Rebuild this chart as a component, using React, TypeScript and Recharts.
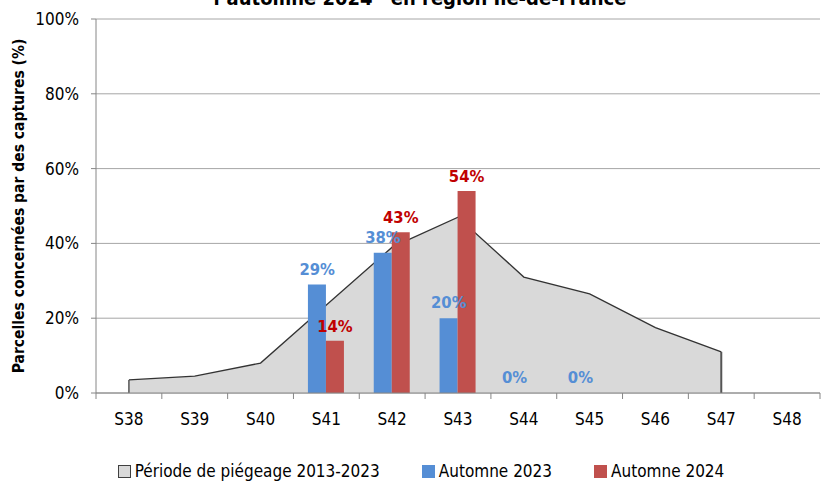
import React from 'react';
import { ComposedChart, Area, Bar, Line, XAxis, YAxis, CartesianGrid, LabelList, ReferenceLine, Legend } from 'recharts';

const categories = ['S38', 'S39', 'S40', 'S41', 'S42', 'S43', 'S44', 'S45', 'S46', 'S47', 'S48'];
const periode = [3.5, 4.5, 8, 23.5, 39, 47, 31, 26.5, 17.5, 11, null];
const automne2023 = [null, null, null, 29, 37.5, 20, 0, 0, null, null, null];
const automne2024 = [null, null, null, 14, 43, 54, null, null, null, null, null];
const yTicks = [0, 20, 40, 60, 80, 100];

const seriesNames = ['Période de piégeage 2013-2023', 'Automne 2023', 'Automne 2024'];
const title = 'l\u2019automne 2024\u201d en région Ile-de-France';
const yTitle = 'Parcelles concernées par des captures (%)';

const data = categories.map((c, i) => ({
  cat: c,
  periode: periode[i],
  a23: automne2023[i],
  a24: automne2024[i],
}));

const FONT = "'Liberation Sans Narrow', 'DejaVu Sans Condensed', 'Open Sans', sans-serif";
const BLUE = '#558ED5';
const RED = '#C0504D';
const AXIS = '#868686';
const BAND = 724 / 11;

const fmt = (v: any) => (v === null || v === undefined ? '' : `${Math.round(v)}%`);

const XTick = (props: any) => {
  const { x, y, payload, index, visibleTicksCount } = props;
  return (
    <g>
      <line x1={x - BAND / 2} x2={x - BAND / 2} y1={y - 8} y2={y - 2} stroke={AXIS} />
      {index === visibleTicksCount - 1 && (
        <line x1={x + BAND / 2} x2={x + BAND / 2} y1={y - 8} y2={y - 2} stroke={AXIS} />
      )}
      <text x={x} y={y + 24} textAnchor="middle" fontFamily={FONT} fontSize={17} fill="#000">
        {payload.value}
      </text>
    </g>
  );
};

const BlueLabel = (props: any) => {
  const { x, y, value } = props;
  if (value === null || value === undefined) return null;
  return (
    <text x={x - BAND * 0.14} y={y - 10} textAnchor="middle" fontFamily={FONT} fontWeight="bold" fontSize={16.5} fill={BLUE}>
      {fmt(value)}
    </text>
  );
};

const LegendContent = () => (
  <div style={{ display: 'flex', justifyContent: 'center', gap: 42, fontFamily: FONT, fontSize: 17, color: '#000', marginLeft: 22 }}>
    {[
      { name: seriesNames[0], fill: '#D9D9D9', stroke: '#404040' },
      { name: seriesNames[1], fill: BLUE, stroke: BLUE },
      { name: seriesNames[2], fill: RED, stroke: RED },
    ].map((it) => (
      <div key={it.name} style={{ display: 'flex', alignItems: 'center' }}>
        <span style={{ display: 'inline-block', width: 11, height: 11, background: it.fill, border: `1px solid ${it.stroke}`, marginRight: 4 }} />
        <span>{it.name}</span>
      </div>
    ))}
  </div>
);

export default function App() {
  return (
    <div style={{ position: 'absolute', left: 0, top: 0, width: 830, height: 482, background: '#fff' }}>
      <ComposedChart
        width={830}
        height={482}
        data={data}
        margin={{ top: 19, right: 10, bottom: 0, left: 0 }}
        barCategoryGap="22%"
        barGap={0}
      >
        <text x={420} y={5} textAnchor="middle" fontFamily={FONT} fontWeight="bold" fontSize={20} fill="#000">
          {title}
        </text>
        <CartesianGrid vertical={false} stroke="#A6A6A6" />
        <XAxis
          dataKey="cat"
          stroke={AXIS}
          tickLine={false}
          tick={<XTick />}
          height={65}
          interval={0}
        />
        <YAxis
          domain={[0, 100]}
          ticks={yTicks}
          width={96}
          stroke={AXIS}
          tickSize={5}
          tickMargin={12}
          tickFormatter={(v: number) => `${v}%`}
          tick={{ fill: '#000', fontFamily: FONT, fontSize: 17 }}
          label={{
            value: yTitle,
            angle: -90,
            position: 'center',
            dx: -30,
            style: { fontFamily: FONT, fontWeight: 'bold', fontSize: 15.5, fill: '#000', textAnchor: 'middle' },
          }}
        />
        <Legend verticalAlign="bottom" height={24} wrapperStyle={{ bottom: -3 }} content={<LegendContent />} />
        <Area
          type="linear"
          dataKey="periode"
          name={seriesNames[0]}
          fill="#D9D9D9"
          fillOpacity={1}
          stroke="#333"
          strokeWidth={1.3}
          isAnimationActive={false}
          connectNulls={false}
        />
        <ReferenceLine segment={[{ x: categories[0], y: 0 }, { x: categories[0], y: periode[0] as number }]} stroke="#555" strokeWidth={1.5} />
        <ReferenceLine segment={[{ x: categories[9], y: 0 }, { x: categories[9], y: periode[9] as number }]} stroke="#555" strokeWidth={2} />
        <Bar dataKey="a23" name={seriesNames[1]} fill={BLUE} isAnimationActive={false} />
        <Bar dataKey="a24" name={seriesNames[2]} fill={RED} isAnimationActive={false}>
          <LabelList
            dataKey="a24"
            position="top"
            offset={9}
            formatter={fmt}
            style={{ fill: '#C00000', fontFamily: FONT, fontWeight: 'bold', fontSize: 16.5 }}
          />
        </Bar>
        <Line
          dataKey="a23"
          stroke="none"
          dot={false}
          activeDot={false}
          legendType="none"
          isAnimationActive={false}
        >
          <LabelList dataKey="a23" content={<BlueLabel />} />
        </Line>
      </ComposedChart>
    </div>
  );
}
